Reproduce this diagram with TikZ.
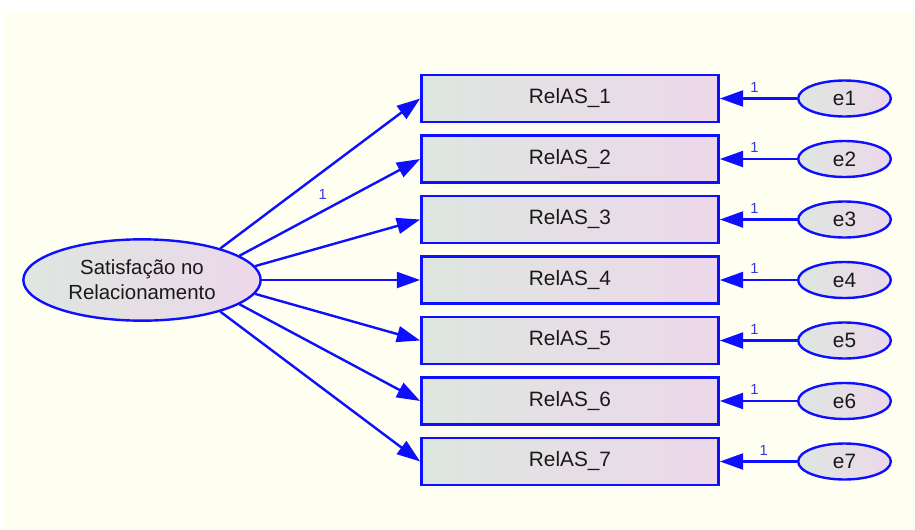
\documentclass[tikz,border=0pt]{standalone}
\usepackage{fontspec}
\setmainfont{Liberation Sans}
\usetikzlibrary{arrows.meta,shapes.geometric}
\definecolor{amosblue}{RGB}{15,15,255}
\definecolor{lblblue}{RGB}{55,55,225}
\definecolor{cream}{RGB}{254,255,240}
\definecolor{fillL}{RGB}{222,230,224}
\definecolor{fillR}{RGB}{236,216,234}
\definecolor{txt}{RGB}{25,25,25}
\tikzset{
  obsbox/.style={draw=amosblue, line width=1.8pt, rectangle, minimum width=223pt,
    minimum height=35pt, left color=fillL, right color=fillR, text=txt,
    font=\fontsize{15.6}{18}\selectfont, inner sep=0pt},
  latent/.style={draw=amosblue, line width=1.8pt, ellipse, minimum width=178pt,
    minimum height=61pt, left color=fillL, right color=fillR, text=txt,
    font=\fontsize{15.3}{18.5}\selectfont, inner sep=0pt, align=center},
  errnode/.style={draw=amosblue, line width=1.8pt, ellipse, minimum width=69.5pt,
    minimum height=27pt, left color=fillL, right color=fillR, text=txt,
    font=\fontsize{15.6}{18}\selectfont, inner sep=0pt},
  path/.style={draw=amosblue, line width=1.8pt, -{Triangle[length=17.5pt,width=12pt]}},
  lbl/.style={text=lblblue, font=\fontsize{11}{13}\selectfont, inner sep=0pt}
}
\begin{document}
\begin{tikzpicture}[x=0.75pt,y=-0.75pt]
\useasboundingbox (0,0) rectangle (915,529);
\fill[white] (0,0) rectangle (915,529);
\fill[cream] (4,12) rectangle (915,529);

\node[latent] (lat) at (142,280) {Satisfação no\\Relacionamento};

\foreach \i/\y in {1/98.5,2/159,3/219.5,4/280,5/340.5,6/401,7/461.5}{
  \node[obsbox] (b\i) at (570,\y) {RelAS\_\i};
  \node[errnode] (e\i) at (844.5,\y) {e\i};
}

\draw[path] (lat.22) -- (b1.west);
\draw[path] (lat.14.5) -- (b2.west) node[lbl, pos=0.46, yshift=12.5pt] {1};
\draw[path] (lat.7.5) -- (b3.west);
\draw[path] (lat.0) -- (b4.west);
\draw[path] (lat.-7.5) -- (b5.west);
\draw[path] (lat.-14.5) -- (b6.west);
\draw[path] (lat.-22) -- (b7.west);

\foreach \i in {1,...,6}{
  \draw[path] (e\i.west) -- (b\i.east) node[lbl, pos=0.55, yshift=8.5pt] {1};
}
\draw[path] (e7.west) -- (b7.east) node[lbl, pos=0.43, yshift=8.5pt] {1};
\end{tikzpicture}
\end{document}
